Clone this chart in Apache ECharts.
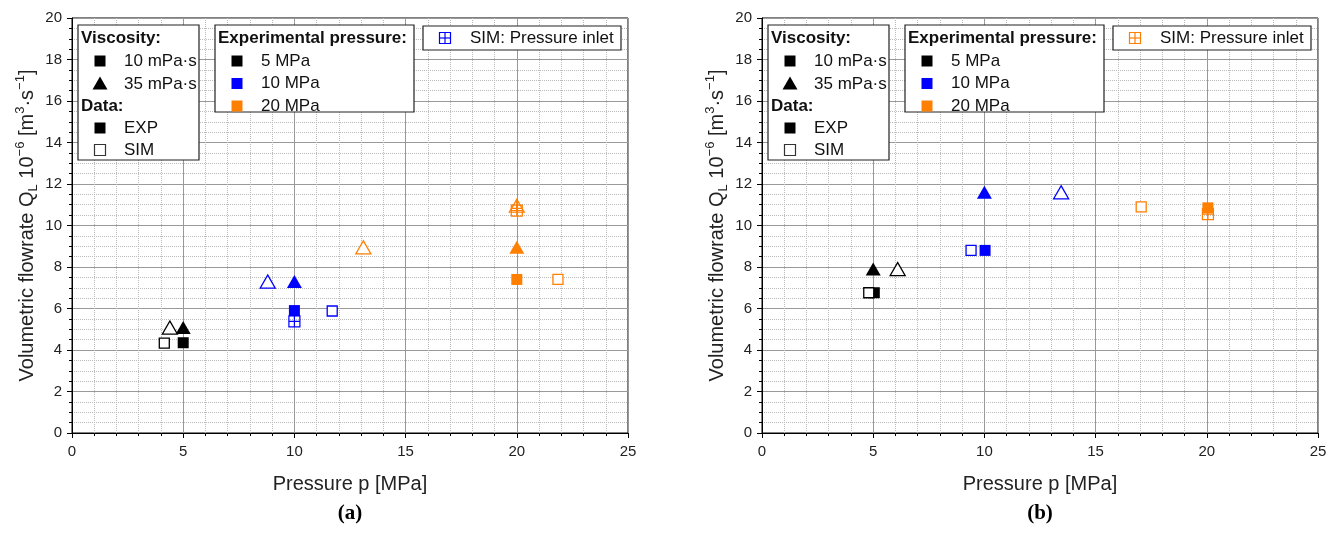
<!DOCTYPE html>
<html>
<head>
<meta charset="utf-8">
<script src="https://cdn.jsdelivr.net/npm/echarts@6/dist/echarts.min.js"></script>
<style>
  html, body { margin: 0; padding: 0; background: #fff; }
  #chart { width: 1339px; height: 534px; }
</style>
</head>
<body>
<div id="chart"></div>
<script>
// 压力类别与颜色
const pressureLabels = ['5 MPa', '10 MPa', '20 MPa'];
const pressureColors = ['#000000', '#0000ff', '#ff7f00'];

// (a) 数据: [p, Q, 实验压力]
const expSquareA = [[5, 4.35, '5 MPa'], [10, 5.9, '10 MPa'], [20, 7.4, '20 MPa']];
const expTriangleA = [[5, 5.08, '5 MPa'], [10, 7.3, '10 MPa'], [20, 8.95, '20 MPa']];
const simSquareA = [[4.15, 4.33, '5 MPa'], [11.7, 5.88, '10 MPa'], [21.85, 7.4, '20 MPa']];
const simTriangleA = [[4.4, 5.08, '5 MPa'], [8.8, 7.3, '10 MPa'], [13.1, 8.95, '20 MPa']];
const inletSquareA = [[10, 5.38, '10 MPa'], [20, 10.72, '20 MPa']];
const inletTriangleA = [[20, 10.95, '20 MPa']];

// (b) 数据
const expSquareB = [[5.05, 6.76, '5 MPa'], [10.03, 8.8, '10 MPa'], [20.05, 10.85, '20 MPa']];
const expTriangleB = [[5, 7.9, '5 MPa'], [10, 11.6, '10 MPa']];
const simSquareB = [[4.8, 6.76, '5 MPa'], [9.4, 8.8, '10 MPa'], [17.05, 10.9, '20 MPa']];
const simTriangleB = [[6.1, 7.9, '5 MPa'], [13.45, 11.6, '10 MPa']];
const inletSquareB = [[20.05, 10.55, '20 MPa']];
const inletTriangleB = [];

// 坐标轴刻度
const xTicks = [0, 5, 10, 15, 20, 25];
const yTicks = [0, 2, 4, 6, 8, 10, 12, 14, 16, 18, 20];

// 图例文字
const viscosityLabels = ['10 mPa·s', '35 mPa·s'];
const dataLabels = ['EXP', 'SIM'];
const inletLabel = 'SIM: Pressure inlet';
const panelLabels = ['(a)', '(b)'];

const FONT = '"Liberation Sans", Arial, sans-serif';
const colorOf = (label) => pressureColors[pressureLabels.indexOf(label)];

const CROSS_SQ = 'path://M0,0L10,0L10,10L0,10Z M5,0L5,10 M0,5L10,5';
const CROSS_TRI = 'path://M5,0L10,10L0,10Z M5,0L5,10 M1.5,7L8.5,7';

function makeSeries(name, gi, points, symbol, size, kind, z) {
  return {
    name: name,
    type: 'scatter',
    xAxisIndex: gi,
    yAxisIndex: gi,
    symbol: symbol,
    symbolSize: size,
    z: z,
    silent: true,
    data: points.map(p => {
      const c = colorOf(p[2]);
      let style;
      if (kind === 'filled') style = { color: c, borderWidth: 0, opacity: 1 };
      else if (kind === 'open') style = { color: '#fff', borderColor: c, borderWidth: 1.3, opacity: 1 };
      else style = { color: 'rgba(0,0,0,0)', borderColor: c, borderWidth: 1.2, opacity: 1 };
      return { value: [p[0], p[1]], itemStyle: style };
    })
  };
}

function panelSeries(gi, expSq, expTri, simSq, simTri, inSq, inTri) {
  return [
    makeSeries('inletSq', gi, inSq, CROSS_SQ, 11, 'cross', 2),
    makeSeries('inletTri', gi, inTri, CROSS_TRI, [15, 13], 'cross', 2),
    makeSeries('expSq', gi, expSq, 'rect', 11, 'filled', 3),
    makeSeries('expTri', gi, expTri, 'triangle', [15, 13], 'filled', 3),
    makeSeries('simSq', gi, simSq, 'rect', 10, 'open', 4),
    makeSeries('simTri', gi, simTri, 'triangle', [15, 13], 'open', 4)
  ];
}

const yName = '{n|Volumetric flowrate Q}{sub|L}{n| 10}{sup|−6}{n| [m}{sup|3}{n|·s}{sup|−1}{n|]}';

function xAxisOf(gi) {
  return {
    gridIndex: gi, type: 'value', min: xTicks[0], max: xTicks[xTicks.length - 1], interval: 5,
    name: 'Pressure p [MPa]', nameLocation: 'middle', nameGap: 41,
    nameTextStyle: { fontSize: 20, color: '#222', fontFamily: FONT },
    axisLine: { lineStyle: { color: '#000', width: 1 } },
    axisTick: { inside: false, length: 5, lineStyle: { color: '#000' } },
    minorTick: { show: true, splitNumber: 5, length: 3, lineStyle: { color: '#000' } },
    axisLabel: { fontSize: 15, color: '#222', fontFamily: FONT, margin: 11 },
    splitLine: { show: true, lineStyle: { color: '#999', width: 1 } },
    minorSplitLine: { show: true, lineStyle: { color: '#bbb', type: 'dotted', width: 1 } }
  };
}

function yAxisOf(gi) {
  return {
    gridIndex: gi, type: 'value', min: yTicks[0], max: yTicks[yTicks.length - 1], interval: 2,
    name: yName, nameLocation: 'middle', nameGap: 32, nameRotate: 90,
    nameTextStyle: {
      color: '#222', fontFamily: FONT,
      rich: {
        n: { fontSize: 20, lineHeight: 26, color: '#222', fontFamily: FONT },
        sub: { fontSize: 13, verticalAlign: 'bottom', color: '#222', fontFamily: FONT },
        sup: { fontSize: 13, verticalAlign: 'top', color: '#222', fontFamily: FONT }
      }
    },
    axisLine: { lineStyle: { color: '#000', width: 1 } },
    axisTick: { inside: false, length: 5, lineStyle: { color: '#000' } },
    minorTick: { show: true, splitNumber: 4, length: 3, lineStyle: { color: '#000' } },
    axisLabel: { fontSize: 15, color: '#222', fontFamily: FONT, margin: 10 },
    splitLine: { show: true, lineStyle: { color: '#999', width: 1 } },
    minorSplitLine: { show: true, lineStyle: { color: '#bbb', type: 'dotted', width: 1 } }
  };
}

// 图例 (手工绘制)
function legendGraphics(dx, inletColor) {
  const g = [];
  const txt = (x, y, s, bold) => ({
    type: 'text', x: x + dx, y: y, z: 101,
    style: { text: s, font: (bold ? 'bold ' : '') + '17px ' + FONT, fill: '#111', verticalAlign: 'middle' }
  });
  const box = (x, y, w, h) => ({
    type: 'rect', z: 100, shape: { x: x + dx, y: y, width: w, height: h },
    style: { fill: '#fff', stroke: '#222', lineWidth: 1.2 }
  });
  const sq = (cx, cy, fill, stroke) => ({
    type: 'rect', z: 101, shape: { x: cx + dx - 5.5, y: cy - 5.5, width: 11, height: 11 },
    style: { fill: fill, stroke: stroke || null, lineWidth: 1.2 }
  });
  const tri = (cx, cy, fill) => ({
    type: 'polygon', z: 101, shape: { points: [[cx + dx, cy - 6.5], [cx + dx + 7.5, cy + 6.5], [cx + dx - 7.5, cy + 6.5]] },
    style: { fill: fill }
  });
  const line = (x1, y1, x2, y2, c) => ({
    type: 'line', z: 102, shape: { x1: x1 + dx, y1: y1, x2: x2 + dx, y2: y2 },
    style: { stroke: c, lineWidth: 1.2 }
  });

  // 粘度 / 数据
  g.push(box(78, 25, 121, 135));
  g.push(txt(81, 38, 'Viscosity:', true));
  g.push(sq(100, 61, '#000'));
  g.push(txt(124, 61, viscosityLabels[0]));
  g.push(tri(100, 83, '#000'));
  g.push(txt(124, 84, viscosityLabels[1]));
  g.push(txt(81, 106, 'Data:', true));
  g.push(sq(100, 128, '#000'));
  g.push(txt(124, 128, dataLabels[0]));
  g.push(sq(100, 150, '#fff', '#333'));
  g.push(txt(124, 150, dataLabels[1]));

  // 实验压力
  g.push(box(215, 25, 199, 87));
  g.push(txt(218, 38, 'Experimental pressure:', true));
  pressureLabels.forEach((l, i) => {
    g.push(sq(237, 61 + i * 22.5, pressureColors[i]));
    g.push(txt(261, 61 + i * 22.5, l));
  });

  // 压力入口
  g.push(box(423, 26, 198, 24));
  g.push(sq(445, 38, 'rgba(0,0,0,0)', inletColor));
  g.push(line(445, 32.5, 445, 43.5, inletColor));
  g.push(line(439.5, 38, 450.5, 38, inletColor));
  g.push(txt(470, 38, inletLabel));
  return g;
}

const chart = echarts.init(document.getElementById('chart'));

const option = {
  animation: false,
  backgroundColor: '#fff',
  grid: [
    { left: 72, top: 18, width: 556, height: 415, show: true, borderColor: '#000', borderWidth: 1 },
    { left: 762, top: 18, width: 556, height: 415, show: true, borderColor: '#000', borderWidth: 1 }
  ],
  xAxis: [xAxisOf(0), xAxisOf(1)],
  yAxis: [yAxisOf(0), yAxisOf(1)],
  series: [].concat(
    panelSeries(0, expSquareA, expTriangleA, simSquareA, simTriangleA, inletSquareA, inletTriangleA),
    panelSeries(1, expSquareB, expTriangleB, simSquareB, simTriangleB, inletSquareB, inletTriangleB)
  ),
  graphic: [].concat(
    legendGraphics(0, '#0000ff'),
    legendGraphics(690, '#ff7f00'),
    [
      { type: 'text', x: 350, y: 514, style: { text: panelLabels[0], font: 'bold 21px "Liberation Serif", serif', fill: '#000', align: 'center', verticalAlign: 'middle' } },
      { type: 'text', x: 1040, y: 514, style: { text: panelLabels[1], font: 'bold 21px "Liberation Serif", serif', fill: '#000', align: 'center', verticalAlign: 'middle' } }
    ]
  )
};

chart.setOption(option);
window.addEventListener('resize', () => chart.resize());
</script>
</body>
</html>
